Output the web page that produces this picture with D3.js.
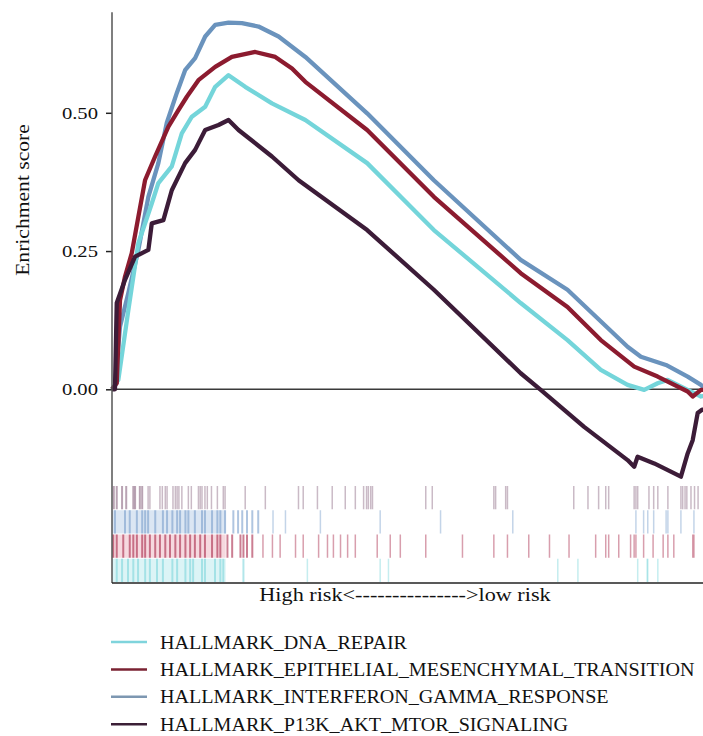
<!DOCTYPE html>
<html>
<head>
<meta charset="utf-8">
<script src="https://cdn.jsdelivr.net/npm/d3@7"></script>
<style>
  body { margin: 0; background: #fff; }
  text { font-family: "Liberation Serif", "DejaVu Serif", serif; fill: #111; }
</style>
</head>
<body>
<div class="chart"></div>
<script>
// gene sets, in legend order
const sets = ["HALLMARK_DNA_REPAIR", "HALLMARK_EPITHELIAL_MESENCHYMAL_TRANSITION",
              "HALLMARK_INTERFERON_GAMMA_RESPONSE", "HALLMARK_P13K_AKT_MTOR_SIGNALING"];

// running enrichment score, rank position in % of ranked list
const dnaRank = [0, 1.07, 2.76, 4.45, 6.72, 7.83, 10.1, 11.79, 13.49, 15.74, 17.43, 19.68, 22.5, 27.02, 32.66, 43.1, 54.37, 69.04, 76.94, 82.57, 87.09, 89.9, 92.17, 93.86, 97.24, 99.49, 100];
const dnaES   = [0, 0.017, 0.143, 0.264, 0.336, 0.373, 0.403, 0.463, 0.493, 0.511, 0.547, 0.568, 0.547, 0.517, 0.487, 0.409, 0.288, 0.156, 0.089, 0.035, 0.008, -0.001, 0.011, 0.017, -0.001, -0.013, -0.012];

const emtRank = [0, 0.8, 1.35, 2.2, 3.33, 4.45, 5.58, 7.28, 9.53, 11.22, 12.64, 14.6, 17.43, 20.25, 24.2, 27.58, 30.41, 32.66, 43.1, 54.37, 69.04, 76.94, 82.57, 88.21, 92.17, 97.24, 98.09, 99.49, 100];
const emtES   = [0, 0.011, 0.161, 0.204, 0.246, 0.312, 0.378, 0.421, 0.475, 0.505, 0.529, 0.559, 0.583, 0.601, 0.61, 0.601, 0.58, 0.556, 0.469, 0.348, 0.21, 0.149, 0.089, 0.041, 0.023, -0.004, -0.013, -0.001, -0.001];

const ifnRank = [0, 0.5, 1.35, 2.76, 4.45, 6.14, 7.83, 9.26, 10.95, 12.35, 14.04, 15.74, 17.43, 19.68, 21.95, 24.75, 28.14, 32.66, 43.1, 54.37, 69.04, 76.94, 87.09, 89.34, 93.57, 97.24, 99.49, 100];
const ifnES   = [0, 0.005, 0.113, 0.174, 0.252, 0.348, 0.409, 0.482, 0.536, 0.577, 0.599, 0.638, 0.659, 0.663, 0.662, 0.656, 0.638, 0.601, 0.499, 0.378, 0.234, 0.18, 0.077, 0.059, 0.044, 0.023, 0.008, 0.002];

const pikRank = [0, 0.5, 0.8, 2.2, 3.89, 6.14, 6.72, 8.68, 10.1, 12.35, 14.04, 15.74, 17.99, 19.68, 21.37, 27.02, 31.52, 43.1, 54.37, 69.04, 72.42, 79.75, 87.09, 88.21, 88.78, 91.59, 96.1, 97.24, 98.09, 98.93, 99.66, 100];
const pikES   = [0, 0, 0.156, 0.198, 0.24, 0.252, 0.3, 0.306, 0.36, 0.409, 0.433, 0.469, 0.478, 0.487, 0.469, 0.421, 0.378, 0.288, 0.18, 0.029, -0.001, -0.068, -0.128, -0.14, -0.122, -0.134, -0.158, -0.116, -0.092, -0.043, -0.037, -0.037];

// hit positions (rank %) for the barcode rows
const dnaHits = [0.8, 1.7, 2.7, 3.6, 4.4, 5.6, 6.4, 7.6, 8.6, 10.2, 11.0, 12.4, 13.2, 13.7, 15.2, 15.7, 17.4, 18.3, 18.8, 22.2, 33.0, 45.3, 46.7, 75.3, 78.7, 88.8, 90.4, 90.5, 92.2];
const emtHits = [0.2, 0.8, 1.9, 3.0, 3.6, 4.2, 5.1, 5.6, 6.4, 7.3, 8.1, 9.0, 9.8, 10.7, 11.5, 12.4, 13.2, 14.0, 14.9, 15.7, 16.9, 17.8, 18.3, 19.5, 20.3, 21.7, 22.2, 22.8, 23.7, 25.5, 27.1, 28.4, 31.0, 32.3, 34.9, 36.4, 37.4, 38.6, 39.8, 41.1, 44.8, 47.0, 48.7, 53.0, 59.2, 64.5, 66.8, 70.4, 73.9, 77.2, 81.7, 83.4, 83.9, 85.6, 87.6, 88.2, 88.5, 89.8, 91.4, 93.1, 93.9, 94.9, 98.1, 98.3];
const ifnHits = [0.5, 2.2, 3.0, 4.2, 5.1, 5.6, 6.1, 7.3, 8.6, 9.3, 10.2, 11.0, 11.5, 12.4, 12.9, 14.0, 15.2, 15.7, 16.9, 17.8, 18.3, 19.1, 20.5, 21.3, 22.0, 22.8, 23.7, 24.7, 27.2, 29.3, 35.2, 45.3, 55.5, 67.7, 88.5, 89.8, 90.5, 91.5, 93.6, 93.9, 96.1, 98.3];
const pikHits = [0.3, 0.8, 1.7, 2.4, 3.6, 3.9, 4.7, 5.1, 6.1, 6.4, 8.1, 8.5, 9.0, 9.3, 10.3, 10.7, 11.0, 11.3, 11.8, 12.9, 13.4, 14.6, 14.9, 15.2, 15.7, 16.1, 16.8, 17.8, 18.8, 19.1, 22.5, 25.9, 31.5, 32.3, 34.7, 37.2, 39.4, 41.1, 42.5, 43.0, 43.3, 43.7, 44.0, 53.0, 54.1, 64.5, 64.8, 66.5, 66.8, 78.0, 80.4, 82.2, 83.4, 83.9, 88.2, 88.5, 88.8, 90.7, 91.5, 92.2, 93.9, 96.1, 96.4, 96.8, 97.1, 97.8, 98.4, 99.0];

// leading edge end (rank %) shaded behind the barcodes
const leadingEdge = [19.2, 19.2, 19.2, 0];

const yTicks = [0, 0.25, 0.5];

const lineColors = ["#74d5da", "#8c1b2f", "#6a93bd", "#3c1c38"];
const legendColors = ["#7fd4dc", "#7a2232", "#7d97b1", "#3b1f36"];
const hitColors = ["#7fd6dc", "#a8284a", "#7a9fcb", "#8a6680"];
const bandColors = ["#dcf4f6", "#f6d9df", "#dbe6f3", "#ffffff"];

const curves = [
    {name: sets[0], rank: dnaRank, es: dnaES, hits: dnaHits},
    {name: sets[1], rank: emtRank, es: emtES, hits: emtHits},
    {name: sets[2], rank: ifnRank, es: ifnES, hits: ifnHits},
    {name: sets[3], rank: pikRank, es: pikES, hits: pikHits}
];
curves.forEach((c, i) => { c.color = lineColors[i]; c.hitColor = hitColors[i]; c.band = bandColors[i]; c.lead = leadingEdge[i]; });

// the original font runs wider than Liberation Serif, so stretch glyphs a bit
function widen(sel, k) {
    sel.each(function() {
        const w = this.getComputedTextLength();
        d3.select(this).attr('textLength', w * k).attr('lengthAdjust', 'spacingAndGlyphs');
    });
}

const width = 703, height = 736;
const svg = d3.select('.chart')
    .append('svg')
    .attr('width', width)
    .attr('height', height);

svg.append('rect').attr('width', width).attr('height', height).attr('fill', '#fff');

const xScale = d3.scaleLinear().domain([0, 100]).range([112, 704]);
const yScale = d3.scaleLinear().domain([0, 0.5]).range([389.3, 112.8]);
const plotTop = yScale(0.682), plotBottom = 583;

// barcode rows (P13K on top, DNA at bottom)
const rowScale = d3.scaleBand()
    .domain([sets[3], sets[2], sets[1], sets[0]])
    .range([486, plotBottom - 1])
    .paddingInner(0.04);

const rows = svg.append('g').selectAll('g')
    .data(curves)
    .enter()
    .append('g');

rows.append('rect')
    .attr('x', xScale(0))
    .attr('y', d => rowScale(d.name))
    .attr('width', d => xScale(d.lead) - xScale(0))
    .attr('height', rowScale.bandwidth())
    .attr('fill', d => d.band);

rows.selectAll('line')
    .data(d => d.hits.map(h => ({h: h, c: d})))
    .enter()
    .append('line')
    .attr('x1', d => xScale(d.h))
    .attr('x2', d => xScale(d.h))
    .attr('y1', d => rowScale(d.c.name))
    .attr('y2', d => rowScale(d.c.name) + rowScale.bandwidth())
    .attr('stroke', d => d.c.hitColor)
    .attr('stroke-width', d => d.h < d.c.lead + 6 ? 2 : 1.5)
    .attr('stroke-opacity', d => d.h < d.c.lead + 6 ? 0.6 : 0.45);

// zero line
svg.append('line')
    .attr('x1', xScale(0)).attr('x2', width)
    .attr('y1', yScale(0)).attr('y2', yScale(0))
    .attr('stroke', '#3a3a3a')
    .attr('stroke-width', 1.6);

// curves
const line = d3.line()
    .x(d => xScale(d[0]))
    .y(d => yScale(d[1]));

const drawOrder = [2, 0, 1, 3];
svg.append('g')
    .selectAll('path')
    .data(drawOrder.map(i => curves[i]))
    .enter()
    .append('path')
    .attr('d', d => line(d.rank.map((r, k) => [r, d.es[k]])))
    .attr('fill', 'none')
    .attr('stroke', d => d.color)
    .attr('stroke-width', 4.3)
    .attr('stroke-linejoin', 'round');

// y axis
const yAxis = d3.axisLeft(yScale)
    .tickValues(yTicks)
    .tickFormat(d3.format('.2f'))
    .tickSize(6)
    .tickSizeOuter(0);

const yg = svg.append('g')
    .attr('class', 'axis y-axis')
    .attr('transform', `translate(${xScale(0)},0)`)
    .call(yAxis);
yg.select('.domain').remove();
yg.selectAll('.tick line').attr('stroke', '#222').attr('stroke-width', 1.5);
yg.selectAll('.tick text')
    .attr('x', -14)
    .style('font-family', '"Liberation Serif", serif')
    .style('font-size', '17.5px')
    .attr('fill', '#111')
    .call(widen, 1.18);

svg.append('line')
    .attr('x1', xScale(0)).attr('x2', xScale(0))
    .attr('y1', plotTop).attr('y2', plotBottom)
    .attr('stroke', '#555')
    .attr('stroke-width', 1.5);

// bottom frame
svg.append('line')
    .attr('x1', xScale(0)).attr('x2', width)
    .attr('y1', plotBottom).attr('y2', plotBottom)
    .attr('stroke', '#222')
    .attr('stroke-width', 1.5);

svg.append('text')
    .attr('transform', 'translate(29,200) rotate(-90)')
    .attr('text-anchor', 'middle')
    .style('font-size', '18px')
    .text('Enrichment score')
    .call(widen, 1.2);

svg.append('text')
    .attr('x', 405)
    .attr('y', 601)
    .attr('text-anchor', 'middle')
    .style('font-size', '18.5px')
    .text('High risk<--------------->low risk')
    .call(widen, 1.2);

// legend
const legend = svg.append('g')
    .selectAll('g')
    .data(sets)
    .enter()
    .append('g')
    .attr('transform', (d, i) => `translate(111, ${642 + i * 27.4})`);

legend.append('line')
    .attr('x1', 0).attr('x2', 36)
    .attr('stroke', (d, i) => legendColors[i])
    .attr('stroke-width', 2.5);

legend.append('text')
    .attr('x', 49)
    .attr('y', 6.5)
    .style('font-size', '19.5px')
    .text(d => d)
    .call(widen, 1.03);
</script>
</body>
</html>
